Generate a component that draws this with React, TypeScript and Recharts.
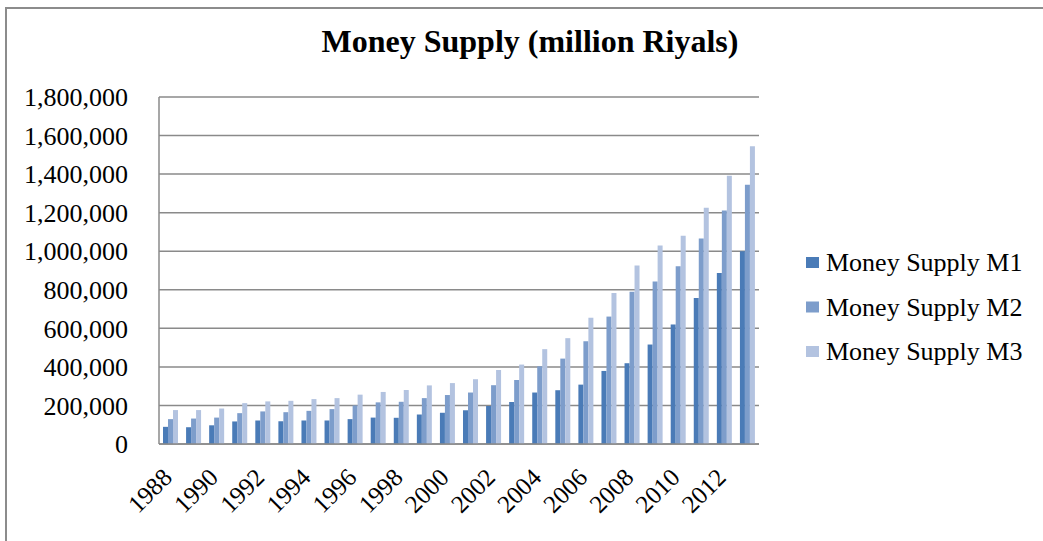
import React from "react";
import { BarChart, Bar, XAxis, YAxis, CartesianGrid } from "recharts";

const years = [
  "1988", "1989", "1990", "1991", "1992", "1993", "1994", "1995", "1996", "1997", "1998", "1999", "2000",
  "2001", "2002", "2003", "2004", "2005", "2006", "2007", "2008", "2009", "2010", "2011", "2012", "2013",
];
const m1 = [
  89000, 87000, 97000, 117000, 122000, 118000, 122000, 122000, 129000, 137000, 136000, 153000, 162000,
  175000, 197000, 218000, 267000, 279000, 308000, 379000, 419000, 516000, 620000, 757000, 887000, 1000000,
];
const m2 = [
  129000, 132000, 137000, 160000, 169000, 165000, 172000, 181000, 200000, 216000, 219000, 238000, 254000,
  267000, 305000, 332000, 403000, 443000, 533000, 661000, 790000, 843000, 922000, 1066000, 1211000, 1345000,
];
const m3 = [
  176000, 176000, 184000, 212000, 221000, 224000, 233000, 238000, 256000, 270000, 280000, 304000, 316000,
  336000, 384000, 412000, 492000, 549000, 655000, 783000, 926000, 1030000, 1080000, 1225000, 1391000, 1544000,
];
const yTicks = [0, 200000, 400000, 600000, 800000, 1000000, 1200000, 1400000, 1600000, 1800000];
const seriesNames = ["Money Supply M1", "Money Supply M2", "Money Supply M3"];
const seriesColors = ["#4a7bb7", "#7d9dcb", "#b3c3e0"];
const title = "Money Supply (million Riyals)";

const data = years.map((y, i) => ({ year: y, m1: m1[i], m2: m2[i], m3: m3[i] }));

const FONT = "'Liberation Serif', 'Times New Roman', serif";
const GRID = "#8a8a8a";

const XTick = (props: any) => {
  const { x, y, payload } = props;
  const ax = x + 3;
  const ay = y + 27;
  return (
    <text
      x={ax}
      y={ay}
      textAnchor="end"
      transform={`rotate(-45, ${ax}, ${ay})`}
      fontFamily={FONT}
      fontSize={25}
      fill="#000"
    >
      {payload.value}
    </text>
  );
};

export default function App() {
  return (
    <div style={{ position: "absolute", left: 0, top: 0, width: 1043, height: 541, background: "#fff", overflow: "hidden" }}>
      <div
        style={{
          position: "absolute",
          left: 5,
          top: 7,
          width: 1100,
          height: 600,
          borderLeft: "2px solid #8c8c8c",
          borderTop: "2px solid #8c8c8c",
        }}
      />
      <div style={{ position: "absolute", left: 0, top: 0 }}>
        <BarChart
          width={1043}
          height={541}
          data={data}
          margin={{ top: 97, right: 284, bottom: 0, left: 0 }}
          barGap={0}
        >
          <CartesianGrid vertical={false} stroke={GRID} strokeWidth={1.5} />
          <XAxis
            dataKey="year"
            interval={1}
            tickLine={false}
            axisLine={{ stroke: GRID, strokeWidth: 1.5 }}
            height={97}
            tick={<XTick />}
          />
          <YAxis
            width={159}
            domain={[0, 1800000]}
            ticks={yTicks}
            interval={0}
            tickLine={false}
            tickSize={0}
            tickMargin={31}
            axisLine={{ stroke: GRID, strokeWidth: 1.5 }}
            tickFormatter={(v: number) => v.toLocaleString("en-US")}
            tick={{ fontFamily: FONT, fontSize: 26, fill: "#000" }}
          />
          <Bar dataKey="m1" name={seriesNames[0]} fill={seriesColors[0]} barSize={5} isAnimationActive={false} />
          <Bar dataKey="m2" name={seriesNames[1]} fill={seriesColors[1]} barSize={5} isAnimationActive={false} />
          <Bar dataKey="m3" name={seriesNames[2]} fill={seriesColors[2]} barSize={5} isAnimationActive={false} />
        </BarChart>
      </div>
      <svg
        width={1043}
        height={541}
        style={{ position: "absolute", left: 0, top: 0, pointerEvents: "none" }}
      >
        <text x={530} y={52} textAnchor="middle" fontFamily={FONT} fontSize={32} fontWeight="bold" fill="#000">
          {title}
        </text>
        {seriesNames.map((n, i) => (
          <g key={n}>
            <rect x={806} y={257 + i * 44.5} width={13} height={11} fill={seriesColors[i]} />
            <text x={826} y={271 + i * 44.5} fontFamily={FONT} fontSize={26} fill="#000">
              {n}
            </text>
          </g>
        ))}
      </svg>
    </div>
  );
}
